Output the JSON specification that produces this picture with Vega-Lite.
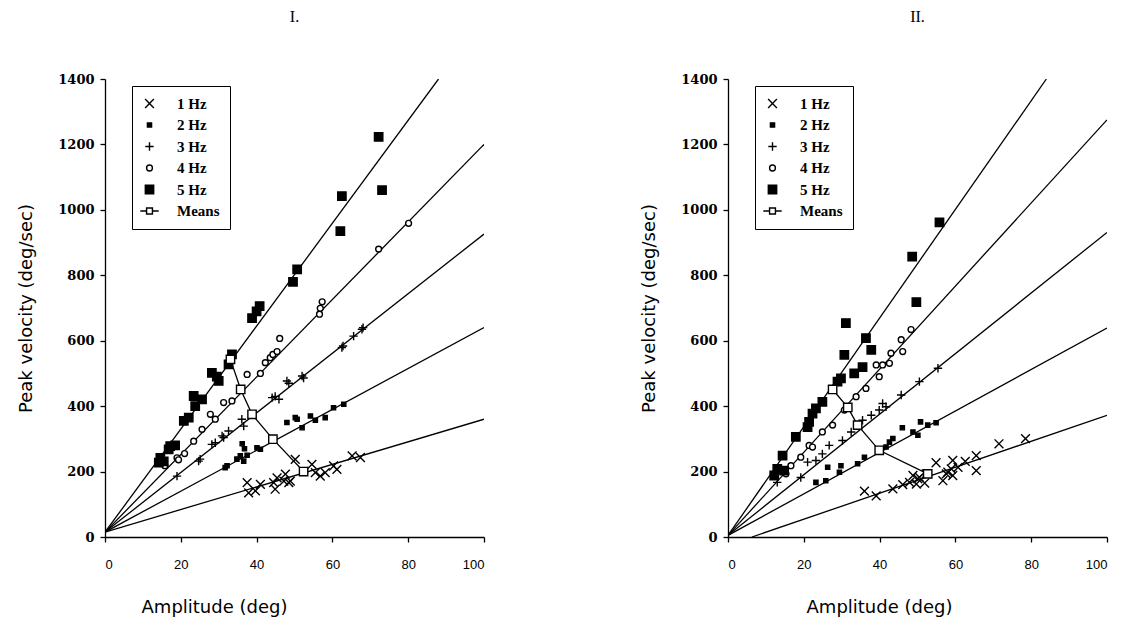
{
  "$schema": "https://vega.github.io/schema/vega-lite/v6.json",
  "background": "white",
  "padding": {"left": 17, "top": 9, "right": 5, "bottom": 5},
  "spacing": 155,
  "config": {
    "view": {"stroke": null},
    "axis": {"grid": false, "domainColor": "black", "tickColor": "black", "labelColor": "black", "titleColor": "black", "tickSize": 5, "domainWidth": 1.3, "tickWidth": 1.3, "titleFont": "DejaVu Sans", "titleFontSize": 18, "titleFontWeight": "normal"},
    "axisY": {"labelFont": "DejaVu Serif", "labelFontWeight": "bold", "labelFontSize": 13, "labelPadding": 6, "titlePadding": 22, "format": "d"},
    "axisX": {"labelFont": "Liberation Sans", "labelFontSize": 13, "labelPadding": 16, "titlePadding": 27},
    "legend": {"orient": "none", "legendX": 27, "legendY": 7, "padding": 10, "strokeColor": "black", "fillColor": "white", "labelFont": "Liberation Serif", "labelFontWeight": "bold", "labelFontSize": 15, "labelColor": "black", "labelOffset": 20, "rowPadding": 5.5, "symbolSize": 70, "symbolStrokeColor": "black", "symbolStrokeWidth": 1.4},
    "title": {"font": "Liberation Serif", "fontSize": 16, "fontWeight": "normal", "color": "black", "offset": 48}
  },
  "datasets": {
    "p1lines": [
      {"freq": "1 Hz", "amp": 0, "vel": 15}, {"freq": "1 Hz", "amp": 100, "vel": 360},
      {"freq": "2 Hz", "amp": 0, "vel": 15}, {"freq": "2 Hz", "amp": 100, "vel": 640},
      {"freq": "3 Hz", "amp": 0, "vel": 15}, {"freq": "3 Hz", "amp": 100, "vel": 926},
      {"freq": "4 Hz", "amp": 0, "vel": 15}, {"freq": "4 Hz", "amp": 100, "vel": 1200},
      {"freq": "5 Hz", "amp": 0, "vel": 15}, {"freq": "5 Hz", "amp": 88, "vel": 1400}
    ],
    "p2lines": [
      {"freq": "1 Hz", "amp": 6.3, "vel": 0}, {"freq": "1 Hz", "amp": 100, "vel": 372},
      {"freq": "2 Hz", "amp": 0, "vel": 5}, {"freq": "2 Hz", "amp": 100, "vel": 639},
      {"freq": "3 Hz", "amp": 0, "vel": 5}, {"freq": "3 Hz", "amp": 100, "vel": 931},
      {"freq": "4 Hz", "amp": 0, "vel": 5}, {"freq": "4 Hz", "amp": 100, "vel": 1275},
      {"freq": "5 Hz", "amp": 0, "vel": 5}, {"freq": "5 Hz", "amp": 84, "vel": 1400}
    ],
    "p1means": [
      {"freq": "5 Hz", "rank": 1, "amp": 33.1, "vel": 543},
      {"freq": "4 Hz", "rank": 2, "amp": 35.8, "vel": 451},
      {"freq": "3 Hz", "rank": 3, "amp": 38.8, "vel": 375},
      {"freq": "2 Hz", "rank": 4, "amp": 44.3, "vel": 299},
      {"freq": "1 Hz", "rank": 5, "amp": 52.4, "vel": 200}
    ],
    "p2means": [
      {"freq": "5 Hz", "rank": 1, "amp": 27.6, "vel": 451},
      {"freq": "4 Hz", "rank": 2, "amp": 31.6, "vel": 396},
      {"freq": "3 Hz", "rank": 3, "amp": 34.2, "vel": 342},
      {"freq": "2 Hz", "rank": 4, "amp": 39.9, "vel": 265},
      {"freq": "1 Hz", "rank": 5, "amp": 52.7, "vel": 193}
    ],
    "p1pts": [
      {"freq": "1 Hz", "amp": 37.5, "vel": 166}, {"freq": "1 Hz", "amp": 37.9, "vel": 135}, {"freq": "1 Hz", "amp": 39.7, "vel": 141}, {"freq": "1 Hz", "amp": 41, "vel": 161}, {"freq": "1 Hz", "amp": 44.5, "vel": 166}, {"freq": "1 Hz", "amp": 44.9, "vel": 146}, {"freq": "1 Hz", "amp": 45.4, "vel": 181}, {"freq": "1 Hz", "amp": 47.2, "vel": 171}, {"freq": "1 Hz", "amp": 47.6, "vel": 192}, {"freq": "1 Hz", "amp": 48.5, "vel": 166}, {"freq": "1 Hz", "amp": 48.9, "vel": 171}, {"freq": "1 Hz", "amp": 50.2, "vel": 237}, {"freq": "1 Hz", "amp": 54.6, "vel": 222}, {"freq": "1 Hz", "amp": 55.5, "vel": 197}, {"freq": "1 Hz", "amp": 56.8, "vel": 186}, {"freq": "1 Hz", "amp": 58.1, "vel": 197}, {"freq": "1 Hz", "amp": 60.3, "vel": 217}, {"freq": "1 Hz", "amp": 61.2, "vel": 207}, {"freq": "1 Hz", "amp": 65.2, "vel": 248}, {"freq": "1 Hz", "amp": 67.4, "vel": 243},
      {"freq": "2 Hz", "amp": 31.7, "vel": 212}, {"freq": "2 Hz", "amp": 32.2, "vel": 218}, {"freq": "2 Hz", "amp": 34.8, "vel": 238}, {"freq": "2 Hz", "amp": 35.7, "vel": 248}, {"freq": "2 Hz", "amp": 36.2, "vel": 285}, {"freq": "2 Hz", "amp": 36.6, "vel": 232}, {"freq": "2 Hz", "amp": 36.8, "vel": 270}, {"freq": "2 Hz", "amp": 37.5, "vel": 250}, {"freq": "2 Hz", "amp": 40.1, "vel": 273}, {"freq": "2 Hz", "amp": 41, "vel": 268}, {"freq": "2 Hz", "amp": 48, "vel": 350}, {"freq": "2 Hz", "amp": 50.2, "vel": 365}, {"freq": "2 Hz", "amp": 50.7, "vel": 360}, {"freq": "2 Hz", "amp": 52, "vel": 334}, {"freq": "2 Hz", "amp": 54.2, "vel": 370}, {"freq": "2 Hz", "amp": 55.5, "vel": 357}, {"freq": "2 Hz", "amp": 58.1, "vel": 365}, {"freq": "2 Hz", "amp": 60.3, "vel": 395}, {"freq": "2 Hz", "amp": 63, "vel": 406},
      {"freq": "3 Hz", "amp": 19, "vel": 186}, {"freq": "3 Hz", "amp": 24.7, "vel": 232}, {"freq": "3 Hz", "amp": 25.1, "vel": 238}, {"freq": "3 Hz", "amp": 28.2, "vel": 283}, {"freq": "3 Hz", "amp": 29.1, "vel": 288}, {"freq": "3 Hz", "amp": 30.9, "vel": 309}, {"freq": "3 Hz", "amp": 31.3, "vel": 304}, {"freq": "3 Hz", "amp": 32.6, "vel": 324}, {"freq": "3 Hz", "amp": 36.1, "vel": 360}, {"freq": "3 Hz", "amp": 36.6, "vel": 339}, {"freq": "3 Hz", "amp": 44.1, "vel": 426}, {"freq": "3 Hz", "amp": 44.9, "vel": 430}, {"freq": "3 Hz", "amp": 45.9, "vel": 421}, {"freq": "3 Hz", "amp": 48, "vel": 477}, {"freq": "3 Hz", "amp": 48.5, "vel": 470}, {"freq": "3 Hz", "amp": 52, "vel": 492}, {"freq": "3 Hz", "amp": 52.4, "vel": 486}, {"freq": "3 Hz", "amp": 62.5, "vel": 579}, {"freq": "3 Hz", "amp": 62.8, "vel": 584}, {"freq": "3 Hz", "amp": 65.6, "vel": 614}, {"freq": "3 Hz", "amp": 67.8, "vel": 635}, {"freq": "3 Hz", "amp": 68.1, "vel": 640},
      {"freq": "4 Hz", "amp": 15.8, "vel": 218}, {"freq": "4 Hz", "amp": 19, "vel": 242}, {"freq": "4 Hz", "amp": 19.4, "vel": 236}, {"freq": "4 Hz", "amp": 21, "vel": 255}, {"freq": "4 Hz", "amp": 23.4, "vel": 293}, {"freq": "4 Hz", "amp": 25.6, "vel": 329}, {"freq": "4 Hz", "amp": 27.8, "vel": 375}, {"freq": "4 Hz", "amp": 29.1, "vel": 360}, {"freq": "4 Hz", "amp": 31.3, "vel": 411}, {"freq": "4 Hz", "amp": 33.5, "vel": 416}, {"freq": "4 Hz", "amp": 37.5, "vel": 497}, {"freq": "4 Hz", "amp": 41, "vel": 500}, {"freq": "4 Hz", "amp": 42.3, "vel": 533}, {"freq": "4 Hz", "amp": 43.6, "vel": 548}, {"freq": "4 Hz", "amp": 44.3, "vel": 558}, {"freq": "4 Hz", "amp": 45.4, "vel": 567}, {"freq": "4 Hz", "amp": 46.1, "vel": 607}, {"freq": "4 Hz", "amp": 56.6, "vel": 681}, {"freq": "4 Hz", "amp": 56.8, "vel": 699}, {"freq": "4 Hz", "amp": 57.3, "vel": 719}, {"freq": "4 Hz", "amp": 72.2, "vel": 880}, {"freq": "4 Hz", "amp": 80.1, "vel": 959},
      {"freq": "5 Hz", "amp": 14.2, "vel": 227}, {"freq": "5 Hz", "amp": 14.6, "vel": 242}, {"freq": "5 Hz", "amp": 15.5, "vel": 231}, {"freq": "5 Hz", "amp": 16.8, "vel": 268}, {"freq": "5 Hz", "amp": 17.2, "vel": 278}, {"freq": "5 Hz", "amp": 18.5, "vel": 280}, {"freq": "5 Hz", "amp": 20.8, "vel": 355}, {"freq": "5 Hz", "amp": 22.1, "vel": 365}, {"freq": "5 Hz", "amp": 23.4, "vel": 431}, {"freq": "5 Hz", "amp": 23.8, "vel": 400}, {"freq": "5 Hz", "amp": 25.6, "vel": 421}, {"freq": "5 Hz", "amp": 28.2, "vel": 502}, {"freq": "5 Hz", "amp": 29.5, "vel": 490}, {"freq": "5 Hz", "amp": 30, "vel": 477}, {"freq": "5 Hz", "amp": 32.6, "vel": 528}, {"freq": "5 Hz", "amp": 33.5, "vel": 558}, {"freq": "5 Hz", "amp": 38.8, "vel": 669}, {"freq": "5 Hz", "amp": 40, "vel": 690}, {"freq": "5 Hz", "amp": 40.8, "vel": 706}, {"freq": "5 Hz", "amp": 49.6, "vel": 780}, {"freq": "5 Hz", "amp": 50.7, "vel": 818}, {"freq": "5 Hz", "amp": 62.1, "vel": 935}, {"freq": "5 Hz", "amp": 62.5, "vel": 1042}, {"freq": "5 Hz", "amp": 72.2, "vel": 1223}, {"freq": "5 Hz", "amp": 73.1, "vel": 1060}
    ],
    "p2pts": [
      {"freq": "1 Hz", "amp": 36, "vel": 140}, {"freq": "1 Hz", "amp": 39.1, "vel": 126}, {"freq": "1 Hz", "amp": 43.5, "vel": 147}, {"freq": "1 Hz", "amp": 46.1, "vel": 160}, {"freq": "1 Hz", "amp": 47.9, "vel": 167}, {"freq": "1 Hz", "amp": 48.8, "vel": 188}, {"freq": "1 Hz", "amp": 49.7, "vel": 162}, {"freq": "1 Hz", "amp": 50.1, "vel": 178}, {"freq": "1 Hz", "amp": 50.5, "vel": 182}, {"freq": "1 Hz", "amp": 51.9, "vel": 165}, {"freq": "1 Hz", "amp": 52.3, "vel": 193}, {"freq": "1 Hz", "amp": 54.9, "vel": 227}, {"freq": "1 Hz", "amp": 56.7, "vel": 172}, {"freq": "1 Hz", "amp": 57.6, "vel": 193}, {"freq": "1 Hz", "amp": 58, "vel": 198}, {"freq": "1 Hz", "amp": 58.9, "vel": 208}, {"freq": "1 Hz", "amp": 59.3, "vel": 234}, {"freq": "1 Hz", "amp": 59.3, "vel": 188}, {"freq": "1 Hz", "amp": 60.7, "vel": 213}, {"freq": "1 Hz", "amp": 62.6, "vel": 231}, {"freq": "1 Hz", "amp": 65.5, "vel": 249}, {"freq": "1 Hz", "amp": 65.5, "vel": 203}, {"freq": "1 Hz", "amp": 71.5, "vel": 285}, {"freq": "1 Hz", "amp": 78.5, "vel": 301},
      {"freq": "2 Hz", "amp": 23.2, "vel": 167}, {"freq": "2 Hz", "amp": 25.8, "vel": 172}, {"freq": "2 Hz", "amp": 26.3, "vel": 213}, {"freq": "2 Hz", "amp": 29.4, "vel": 198}, {"freq": "2 Hz", "amp": 29.8, "vel": 218}, {"freq": "2 Hz", "amp": 34.2, "vel": 224}, {"freq": "2 Hz", "amp": 36, "vel": 244}, {"freq": "2 Hz", "amp": 41.7, "vel": 275}, {"freq": "2 Hz", "amp": 42.6, "vel": 290}, {"freq": "2 Hz", "amp": 43.5, "vel": 301}, {"freq": "2 Hz", "amp": 46, "vel": 334}, {"freq": "2 Hz", "amp": 48.8, "vel": 321}, {"freq": "2 Hz", "amp": 50.1, "vel": 311}, {"freq": "2 Hz", "amp": 50.8, "vel": 352}, {"freq": "2 Hz", "amp": 52.7, "vel": 342}, {"freq": "2 Hz", "amp": 54.9, "vel": 349},
      {"freq": "3 Hz", "amp": 13, "vel": 167}, {"freq": "3 Hz", "amp": 19.2, "vel": 182}, {"freq": "3 Hz", "amp": 21, "vel": 229}, {"freq": "3 Hz", "amp": 23.2, "vel": 234}, {"freq": "3 Hz", "amp": 24.9, "vel": 254}, {"freq": "3 Hz", "amp": 26.7, "vel": 280}, {"freq": "3 Hz", "amp": 30.2, "vel": 295}, {"freq": "3 Hz", "amp": 32.5, "vel": 321}, {"freq": "3 Hz", "amp": 35.5, "vel": 357}, {"freq": "3 Hz", "amp": 37.8, "vel": 372}, {"freq": "3 Hz", "amp": 39.9, "vel": 388}, {"freq": "3 Hz", "amp": 40.8, "vel": 408}, {"freq": "3 Hz", "amp": 41.7, "vel": 398}, {"freq": "3 Hz", "amp": 45.7, "vel": 434}, {"freq": "3 Hz", "amp": 50.5, "vel": 475}, {"freq": "3 Hz", "amp": 55.4, "vel": 516},
      {"freq": "4 Hz", "amp": 15.3, "vel": 193}, {"freq": "4 Hz", "amp": 16.6, "vel": 218}, {"freq": "4 Hz", "amp": 19.2, "vel": 244}, {"freq": "4 Hz", "amp": 21.4, "vel": 280}, {"freq": "4 Hz", "amp": 22.3, "vel": 275}, {"freq": "4 Hz", "amp": 24.9, "vel": 321}, {"freq": "4 Hz", "amp": 27.6, "vel": 342}, {"freq": "4 Hz", "amp": 30.7, "vel": 388}, {"freq": "4 Hz", "amp": 33.8, "vel": 429}, {"freq": "4 Hz", "amp": 36.4, "vel": 454}, {"freq": "4 Hz", "amp": 39.1, "vel": 526}, {"freq": "4 Hz", "amp": 39.9, "vel": 490}, {"freq": "4 Hz", "amp": 40.8, "vel": 526}, {"freq": "4 Hz", "amp": 42.6, "vel": 531}, {"freq": "4 Hz", "amp": 43, "vel": 562}, {"freq": "4 Hz", "amp": 45.7, "vel": 603}, {"freq": "4 Hz", "amp": 46.1, "vel": 567}, {"freq": "4 Hz", "amp": 48.3, "vel": 634},
      {"freq": "5 Hz", "amp": 12.2, "vel": 188}, {"freq": "5 Hz", "amp": 13, "vel": 208}, {"freq": "5 Hz", "amp": 14.8, "vel": 203}, {"freq": "5 Hz", "amp": 14.4, "vel": 249}, {"freq": "5 Hz", "amp": 17.9, "vel": 306}, {"freq": "5 Hz", "amp": 21, "vel": 336}, {"freq": "5 Hz", "amp": 21.4, "vel": 352}, {"freq": "5 Hz", "amp": 22.3, "vel": 377}, {"freq": "5 Hz", "amp": 23.2, "vel": 393}, {"freq": "5 Hz", "amp": 24.9, "vel": 413}, {"freq": "5 Hz", "amp": 28.9, "vel": 475}, {"freq": "5 Hz", "amp": 29.8, "vel": 485}, {"freq": "5 Hz", "amp": 30.7, "vel": 557}, {"freq": "5 Hz", "amp": 31.1, "vel": 654}, {"freq": "5 Hz", "amp": 33.3, "vel": 500}, {"freq": "5 Hz", "amp": 35.5, "vel": 519}, {"freq": "5 Hz", "amp": 36.4, "vel": 608}, {"freq": "5 Hz", "amp": 37.8, "vel": 572}, {"freq": "5 Hz", "amp": 48.6, "vel": 857}, {"freq": "5 Hz", "amp": 49.7, "vel": 718}, {"freq": "5 Hz", "amp": 55.8, "vel": 962}
    ]
  },
  "resolve": {
    "scale": {"shape": "independent", "fill": "independent", "stroke": "independent"},
    "legend": {"shape": "independent", "fill": "independent", "stroke": "independent"}
  },
  "hconcat": [
    {
      "width": 379, "height": 458,
      "title": {"text": "I."},
      "layer": [
        {
          "data": {"name": "p1lines"},
          "mark": {"type": "line", "color": "black", "strokeWidth": 1.3, "clip": true},
          "encoding": {
            "x": {"field": "amp", "type": "quantitative", "scale": {"domain": [0, 100], "nice": false}, "axis": {"values": [0, 20, 40, 60, 80, 100], "title": "Amplitude (deg)", "titleX": 109}},
            "y": {"field": "vel", "type": "quantitative", "scale": {"domain": [0, 1400], "nice": false}, "axis": {"values": [0, 200, 400, 600, 800, 1000, 1200, 1400], "title": "Peak velocity (deg/sec)"}},
            "detail": {"field": "freq"}
          }
        },
        {
          "data": {"name": "p1pts"},
          "mark": {"type": "point", "filled": true, "strokeWidth": 1.4, "opacity": 1, "size": 70},
          "encoding": {
            "x": {"field": "amp", "type": "quantitative"},
            "y": {"field": "vel", "type": "quantitative"},
            "shape": {"field": "freq", "type": "nominal", "title": null, "scale": {"domain": ["1 Hz", "2 Hz", "3 Hz", "4 Hz", "5 Hz", "Means"], "range": ["M-1.05,-1.05L1.05,1.05M-1.05,1.05L1.05,-1.05", "M-0.5,-0.5H0.5V0.5H-0.5Z", "M-1,0H1M0,-1V1", "M-0.7,0A0.7,0.7 0 1,0 0.7,0A0.7,0.7 0 1,0 -0.7,0Z", "M-1,-1H1V1H-1Z", "M-2.2,0H-0.7M0.7,0H2.2M-0.7,-0.7H0.7V0.7H-0.7Z"]}, "legend": {"encode": {"symbols": {"update": {"stroke": {"value": "black"}, "strokeWidth": {"value": 1.4}}}}}},
            "fill": {"field": "freq", "type": "nominal", "title": null, "scale": {"domain": ["1 Hz", "2 Hz", "3 Hz", "4 Hz", "5 Hz", "Means"], "range": ["black", "black", "black", "white", "black", "white"]}, "legend": {"encode": {"symbols": {"update": {"stroke": {"value": "black"}, "strokeWidth": {"value": 1.4}}}}}},
            "stroke": {"field": "freq", "type": "nominal", "title": null, "scale": {"domain": ["1 Hz", "2 Hz", "3 Hz", "4 Hz", "5 Hz", "Means"], "range": ["black", "black", "black", "black", "black", "black"]}, "legend": {"encode": {"symbols": {"update": {"stroke": {"value": "black"}, "strokeWidth": {"value": 1.4}}}}}}
          }
        },
        {
          "data": {"name": "p1means"},
          "mark": {"type": "line", "color": "black", "strokeWidth": 1.3},
          "encoding": {
            "x": {"field": "amp", "type": "quantitative"},
            "y": {"field": "vel", "type": "quantitative"},
            "order": {"field": "rank", "type": "quantitative"}
          }
        },
        {
          "data": {"name": "p1means"},
          "mark": {"type": "point", "shape": "square", "filled": true, "fill": "white", "stroke": "black", "strokeWidth": 1.4, "size": 70, "opacity": 1},
          "encoding": {
            "x": {"field": "amp", "type": "quantitative"},
            "y": {"field": "vel", "type": "quantitative"}
          }
        }
      ]
    },
    {
      "width": 379, "height": 458,
      "title": {"text": "II."},
      "layer": [
        {
          "data": {"name": "p2lines"},
          "mark": {"type": "line", "color": "black", "strokeWidth": 1.3, "clip": true},
          "encoding": {
            "x": {"field": "amp", "type": "quantitative", "scale": {"domain": [0, 100], "nice": false}, "axis": {"values": [0, 20, 40, 60, 80, 100], "title": "Amplitude (deg)", "titleX": 151}},
            "y": {"field": "vel", "type": "quantitative", "scale": {"domain": [0, 1400], "nice": false}, "axis": {"values": [0, 200, 400, 600, 800, 1000, 1200, 1400], "title": "Peak velocity (deg/sec)"}},
            "detail": {"field": "freq"}
          }
        },
        {
          "data": {"name": "p2pts"},
          "mark": {"type": "point", "filled": true, "strokeWidth": 1.4, "opacity": 1, "size": 70},
          "encoding": {
            "x": {"field": "amp", "type": "quantitative"},
            "y": {"field": "vel", "type": "quantitative"},
            "shape": {"field": "freq", "type": "nominal", "title": null, "scale": {"domain": ["1 Hz", "2 Hz", "3 Hz", "4 Hz", "5 Hz", "Means"], "range": ["M-1.05,-1.05L1.05,1.05M-1.05,1.05L1.05,-1.05", "M-0.5,-0.5H0.5V0.5H-0.5Z", "M-1,0H1M0,-1V1", "M-0.7,0A0.7,0.7 0 1,0 0.7,0A0.7,0.7 0 1,0 -0.7,0Z", "M-1,-1H1V1H-1Z", "M-2.2,0H-0.7M0.7,0H2.2M-0.7,-0.7H0.7V0.7H-0.7Z"]}, "legend": {"encode": {"symbols": {"update": {"stroke": {"value": "black"}, "strokeWidth": {"value": 1.4}}}}}},
            "fill": {"field": "freq", "type": "nominal", "title": null, "scale": {"domain": ["1 Hz", "2 Hz", "3 Hz", "4 Hz", "5 Hz", "Means"], "range": ["black", "black", "black", "white", "black", "white"]}, "legend": {"encode": {"symbols": {"update": {"stroke": {"value": "black"}, "strokeWidth": {"value": 1.4}}}}}},
            "stroke": {"field": "freq", "type": "nominal", "title": null, "scale": {"domain": ["1 Hz", "2 Hz", "3 Hz", "4 Hz", "5 Hz", "Means"], "range": ["black", "black", "black", "black", "black", "black"]}, "legend": {"encode": {"symbols": {"update": {"stroke": {"value": "black"}, "strokeWidth": {"value": 1.4}}}}}}
          }
        },
        {
          "data": {"name": "p2means"},
          "mark": {"type": "line", "color": "black", "strokeWidth": 1.3},
          "encoding": {
            "x": {"field": "amp", "type": "quantitative"},
            "y": {"field": "vel", "type": "quantitative"},
            "order": {"field": "rank", "type": "quantitative"}
          }
        },
        {
          "data": {"name": "p2means"},
          "mark": {"type": "point", "shape": "square", "filled": true, "fill": "white", "stroke": "black", "strokeWidth": 1.4, "size": 70, "opacity": 1},
          "encoding": {
            "x": {"field": "amp", "type": "quantitative"},
            "y": {"field": "vel", "type": "quantitative"}
          }
        }
      ]
    }
  ]
}
